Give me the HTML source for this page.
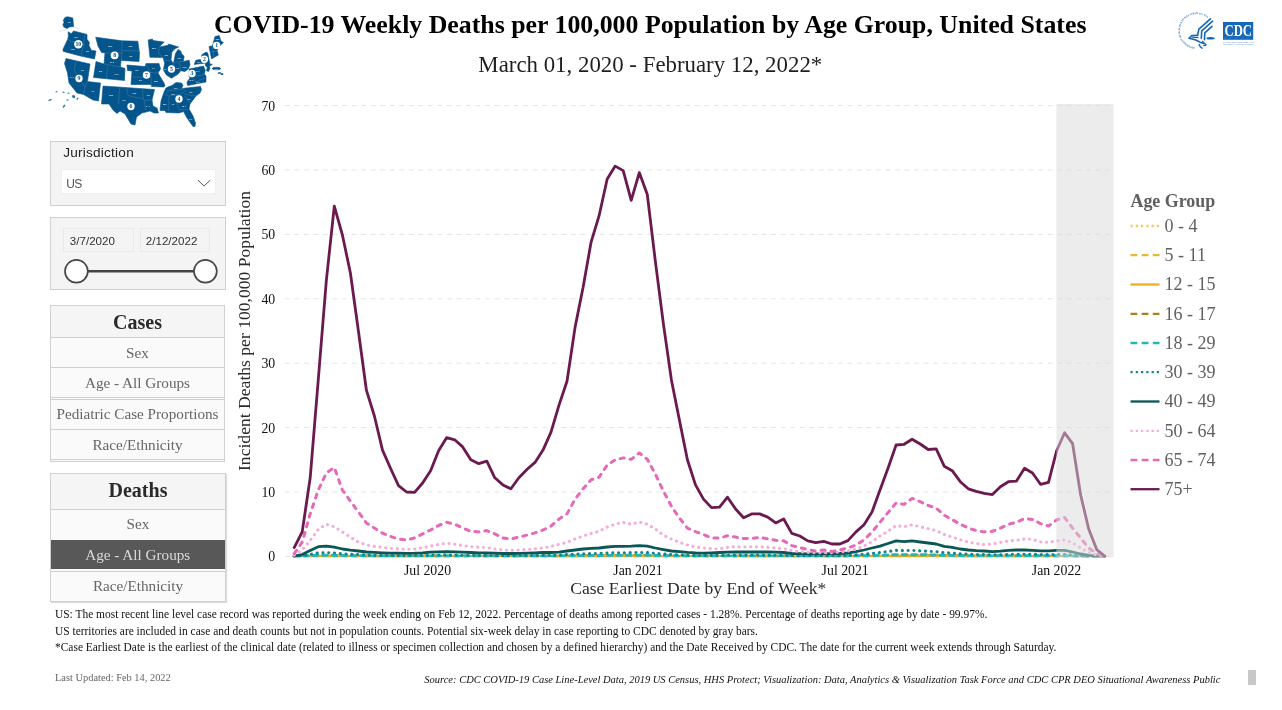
<!DOCTYPE html>
<html lang="en"><head><meta charset="utf-8"><title>COVID-19 Weekly Deaths per 100,000 Population by Age Group, United States</title>
<style>
html,body{margin:0;padding:0;background:#fff;}
body{width:1282px;height:710px;position:relative;overflow:hidden;font-family:"Liberation Serif",serif;color:#000;}
.abs{position:absolute;}
#title{left:0;width:1300.4px;top:9.7px;text-align:center;font-weight:bold;font-size:25.83px;line-height:30px;white-space:nowrap;}
#title span{display:inline-block;}
#sub{left:0;width:1300.6px;top:50.7px;text-align:center;font-size:22.85px;line-height:28px;color:#1f1f1f;white-space:nowrap;}
.box{position:absolute;box-sizing:border-box;border:1px solid #cfcfcf;background:#f4f4f4;}
.sans{font-family:"Liberation Sans",sans-serif;}
.panel{position:absolute;box-sizing:border-box;border:1px solid #d0d0d0;background:#fafafa;}
.ph{position:absolute;left:0;right:0;text-align:center;font-weight:bold;font-size:20px;color:#2a2a2a;background:#f5f5f5;border-bottom:1px solid #d0d0d0;box-sizing:border-box;}
.row{position:absolute;left:0;right:0;text-align:center;font-size:15.2px;color:#666;background:#fafafa;border-bottom:1px solid #d0d0d0;box-sizing:border-box;white-space:nowrap;}
.row.top{border-top:1px solid #d0d0d0;}
.row.sel{background:#585858;color:#d9d9d9;border-color:#585858;}
svg text{font-family:"Liberation Serif",serif;}
.tick{font-size:13.8px;fill:#111;}
.axl{font-size:17.6px;fill:#2b2b2b;}
.leg{font-size:18px;fill:#606060;}
.legt{font-size:17.9px;font-weight:bold;fill:#606060;}
.foot{position:absolute;left:55px;font-size:11.45px;line-height:14px;color:#111;white-space:nowrap;}
</style></head><body>
<div id="title" class="abs">COVID-19 Weekly Deaths per 100,000 Population by Age Group, United States</div>
<div id="sub" class="abs">March 01, 2020 - February 12, 2022*</div>
<svg class="abs" style="left:0;top:0" width="240" height="135" viewBox="0 0 240 135">
<g fill="#04558b" stroke="#04558b" stroke-width="0.6" stroke-linejoin="round">
<!-- Alaska -->
<polygon points="64.9,17.5 67.7,16.7 72.8,17.9 73.6,26.6 69.2,27 66.9,28.5 63.7,27 62.9,24.2 64.1,22.6 63.3,20.3"/>
<!-- Region 10 -->
<polygon points="68.1,31.7 71.2,33.7 73.6,30.9 87,34.4 87,39.2 89.3,42.3 89,45.5 91.3,50.2 96,51 94.5,58.9 80.7,56.1 63.3,51.4 62.9,49.4 67.7,39.2 68.4,36"/>
<!-- Region 9 -->
<polygon points="66,58.5 90,64 87.5,81.5 100.5,83 98.5,101 93,100 83.5,94.5 77,93 69,83 67.5,73 64.5,63.5"/>
<!-- Region 8 -->
<polygon points="95.7,37.2 122,40.8 137.8,41.2 139.5,53 139,61.5 121,60.5 120.5,67 125,68.5 124.5,80.5 93.5,77.5 96,61.5 104,64 105,53 101.5,52.5 98,46"/>
<!-- Region 7 -->
<polygon points="127,65 145,66.5 146,63.5 159,63.5 160.5,69 158,73 164,83 165,86 163.5,87 151.5,86.5 151,84.5 131,84.5 132,71 127.5,70.5"/>
<!-- Region 6 -->
<polygon points="103,86 154.5,89.5 152,100 153,106 157,108 158.5,113 154,113 150,111 142,113 136.5,117 135,125 131,124 125,114 120,111 117,113.5 113,110 109,104 101.5,104"/>
<!-- Region 4 -->
<polygon points="166,88 169,86.5 172,85.5 176,82.5 181.5,83 183,85.5 181.5,88.5 200.5,86.5 201.5,89.5 200,93 196,96 190,104 189,109 193,116 195.5,123 195,126.5 193,126.5 187,118 183.5,111.5 179,113 166,112.5 165,110.5 160,110.5 161,101 164,92"/>
<!-- Region 5 -->
<polygon points="148.2,39.9 152.4,39 153,40.5 164.2,42.1 159.2,47 167.2,45.4 168.9,44.1 178.6,47 174.6,49 171.9,52.1 171,59.7 172.6,62.6 173.7,62.6 175.4,53.8 178,49.4 180.7,50.9 181.6,53.8 184.1,56.3 183.3,61.4 189.2,60.2 190,64.8 188.3,69 184.9,71.6 180.7,70.7 178.2,74.1 171.4,78.3 166.3,74.9 163.4,69.9 164.7,63.1 163,57.6 149.9,57.2"/>
<!-- Region 3 -->
<polygon points="189.2,69 203.5,66.1 205.2,69.9 204.4,74.1 206,76 206,82 187.5,85.5 187,82 190,78 189,76"/>
<!-- Region 2 -->
<polygon points="201.9,54.7 206.1,52.1 207.8,53 209.9,64 212.4,64.4 209.5,66.1 209.9,68.2 208.6,71.6 206.5,70.7 207.3,67.3 205.2,65.6 205.7,63.1 194.2,64.4 195.9,60.2 201.4,59.3"/>
<ellipse cx="216.4" cy="68.6" rx="4.2" ry="1.3"/>
<ellipse cx="219.5" cy="73" rx="1.6" ry="0.5"/><ellipse cx="222" cy="74" rx="1.4" ry="0.5"/>
<!-- Region 1 -->
<polygon points="215,36.5 219.2,35.6 220.9,41.1 223.4,42.4 219.6,46.2 217.1,50.4 218.3,55.1 214.5,57.2 211.6,58.9 209,46.6 212.4,45.8"/>
<!-- Hawaii -->
<g fill-opacity="0.8" stroke-opacity="0.5">
<ellipse cx="50" cy="100" rx="1.6" ry="0.4" transform="rotate(-20 50 100)"/>
<ellipse cx="56.5" cy="91.7" rx="0.9" ry="0.35" transform="rotate(-30 56.5 91.7)"/>
<ellipse cx="63.5" cy="92.2" rx="1.2" ry="0.4"/>
<ellipse cx="68.5" cy="93.2" rx="1" ry="0.4"/>
<ellipse cx="73.6" cy="96.6" rx="1.6" ry="1.2" transform="rotate(30 73.6 96.6)"/>
<ellipse cx="77.5" cy="98.7" rx="0.5" ry="1.1" transform="rotate(30 77.5 98.7)"/>
<ellipse cx="64" cy="106.2" rx="0.6" ry="1.7" transform="rotate(35 64 106.2)"/>
<ellipse cx="67.5" cy="100" rx="1.2" ry="0.3"/>
</g>
</g>

<g fill="none" stroke="#6a9fc7" stroke-width="0.42" stroke-opacity="0.75">
<path d="M68,39.2 L70.8,41.5 L74,42 L82.6,44.7 L84.5,44.5"/>
<path d="M85,34.4 L83.4,44.7 L81,56.1"/>
<path d="M122,40.8 L121.7,60.5"/>
<path d="M122,50.6 L139,51"/>
<path d="M103.2,53 L122,53"/>
<path d="M76,61.5 L74,70 L85,87"/>
<path d="M87.5,81.5 L85,87 L83.5,94.5"/>
<path d="M107.5,66.5 L106.5,79"/>
<path d="M104,64 L120.5,67"/>
<path d="M119.5,88 L118.5,104"/>
<path d="M127,88.3 L127.5,94.5 L131,96.5 L143,98.5"/>
<path d="M142.5,89.5 L143.5,100.5 L152,100"/>
<path d="M144.5,101 L145.5,110"/>
<path d="M132.5,77 L150.5,77.5"/>
<path d="M146,64 L150.5,73 L151.5,86.5"/>
<path d="M149,72.5 L158,73"/>
<path d="M167,90.8 L184.5,89"/>
<path d="M164.5,94 L168.5,96 L180,94.5 L186,90.5"/>
<path d="M169,96.5 L168.5,111"/>
<path d="M176.5,102.5 L179,109.5"/>
<path d="M176.5,95.2 L176.5,102.5"/>
<path d="M184.5,96 L190,103"/>
<path d="M184.5,94 L190,95 L196,96"/>
<path d="M179,110 L188,109.5"/>
<path d="M159.2,47 L158.7,53.8 L163.4,57.6"/>
<path d="M163.4,60.6 L171.4,60.6"/>
<path d="M173.1,63.1 L173.5,72.4"/>
<path d="M179.9,62.3 L180.3,70.7"/>
<path d="M173.5,62.7 L183.3,61.4"/>
<path d="M189.5,77 L205,74.5"/>
<path d="M193,78 L196,82 L200,80 L206,78"/>
<path d="M212.4,45.8 L214,57"/><path d="M215.5,45 L217,50.4"/><path d="M210,52 L218,51"/>
</g>
<g fill="none" stroke="#04558b" stroke-opacity="0.35" stroke-width="0.5" stroke-linecap="round">
<path d="M69.2,27.3 Q66,30.5 59.8,31.3"/><path d="M73.8,26.8 Q76.5,27.5 78.7,29.3"/>
</g>
<g font-family="Liberation Sans, sans-serif" font-weight="bold" font-size="2.6" fill="#fff" fill-opacity="1.2" text-anchor="middle"><text x="69.2" y="23.1">AK</text><text x="76.3" y="38.1">WA</text><text x="72.8" y="49.9">OR</text><text x="87.4" y="51.9">ID</text><text x="110.2" y="46.8">MT</text><text x="130.4" y="46.8">ND</text><text x="130.8" y="57.0">SD</text><text x="112.2" y="63.3">WY</text><text x="82.5" y="71.4">NV</text><text x="72" y="77.9">CA</text><text x="100.5" y="71.9">UT</text><text x="116.5" y="75.4">CO</text><text x="92.5" y="91.7">AZ</text><text x="110.8" y="95.9">NM</text><text x="137" y="71.2">NE</text><text x="153.7" y="69.4">IA</text><text x="140.5" y="80.9">KS</text><text x="156" y="82.4">MO</text><text x="134.5" y="94.4">OK</text><text x="148.2" y="96.2">AR</text><text x="124" y="101.4">TX</text><text x="148" y="106.9">LA</text><text x="154" y="49.4">MN</text><text x="166.2" y="55.7">WI</text><text x="176" y="88.6">KY</text><text x="173" y="94.7">TN</text><text x="191" y="93.2">NC</text><text x="189" y="99.7">SC</text><text x="164.8" y="105.1">MS</text><text x="172.8" y="105.2">AL</text><text x="184" y="107.2">GA</text><text x="191" y="120.4">FL</text><text x="198" y="71.7">PA</text><text x="198" y="82.9">VA</text><text x="191.5" y="81.4">WV</text><text x="184.5" y="67.9">OH</text><text x="177.7" y="69.4">IN</text><text x="179" y="59.4">MI</text><text x="198.9" y="62.6">NY</text><text x="217.5" y="40.3">ME</text><text x="216.2" y="69.5">PR</text><text x="165" y="69.7">IL</text></g>
<g fill="#fff">
<circle cx="78.3" cy="44.3" r="4.2"/><circle cx="114.6" cy="55.3" r="3.9"/><circle cx="79" cy="78.5" r="3.7"/><circle cx="146.5" cy="75" r="3.7"/><circle cx="131" cy="106.5" r="3.7"/><circle cx="171.5" cy="69" r="3.7"/><circle cx="192" cy="73.5" r="3.7"/><circle cx="179" cy="99" r="3.7"/><circle cx="204.4" cy="59.3" r="3.7"/><circle cx="216.6" cy="45.4" r="3.7"/>
</g>
<g font-family="Liberation Sans, sans-serif" font-weight="bold" font-size="5.8" fill="#04558b" text-anchor="middle">
<text x="78.3" y="46.2">10</text><text x="114.6" y="57.2">8</text><text x="79" y="80.4">9</text><text x="146.5" y="76.9">7</text><text x="131" y="108.4">6</text><text x="171.5" y="70.9">5</text><text x="192" y="75.4">3</text><text x="179" y="100.9">4</text><text x="204.4" y="61.2">2</text><text x="216.6" y="47.3">1</text>
</g>
</svg>

<svg class="abs" style="left:1170px;top:5px" width="100" height="55" viewBox="1170 5 100 55">
<defs><path id="hhsarc" d="M1195.15,47.24 A16.6,16.6 0 1 1 1208.34,18.96"/></defs>
<text font-family="Liberation Sans, sans-serif" font-size="2.5" font-weight="bold" fill="#2a74bd" textLength="62" lengthAdjust="spacing"><textPath href="#hhsarc" textLength="62" lengthAdjust="spacing">DEPARTMENT OF HEALTH &amp; HUMAN SERVICES • USA</textPath></text>
<g fill="none" stroke="#1667b7" stroke-width="1.6" stroke-linecap="round" stroke-linejoin="round">
<path d="M1197.6,35.2 L1198.9,29.2 L1210.4,18.8"/>
<path d="M1201.3,38.2 L1201.7,30.9 L1212.6,21.2"/>
<path d="M1204.5,39.6 L1204.8,32.9 L1212,26.3"/>
<path d="M1197.6,35.4 L1191.8,35.5 L1189,38.3 Q1196,39.5 1200,42.2 L1204,43.6"/>
<path d="M1192,37.2 L1198,37.6" stroke-width="1.2"/>
<path d="M1207,38 Q1210.5,36.8 1214.3,38.4 Q1210.5,39.3 1207.2,38.6" stroke-width="1.1" fill="#1667b7"/>
<path d="M1199.2,44.6 Q1199.8,47 1202,48.2" stroke-width="1.5"/>
<path d="M1202.6,41.4 Q1203.8,43.4 1206,44.6" stroke-width="1.4"/>
<path d="M1203.5,45.8 L1205.8,45.4" stroke-width="1.1"/>
</g>
<rect x="1223" y="22" width="30.2" height="17.8" fill="#1667b7"/>
<text x="1238.2" y="36.3" text-anchor="middle" font-family="Liberation Serif, serif" font-weight="bold" font-size="16" fill="#fff" textLength="27.4" lengthAdjust="spacingAndGlyphs">CDC</text>
<g stroke="#fff" stroke-opacity="0.28" stroke-width="0.4"><line x1="1223" y1="39.8" x2="1236" y2="31"/><line x1="1228" y1="39.8" x2="1241" y2="30"/><line x1="1234" y1="39.8" x2="1247" y2="30"/><line x1="1240" y1="39.8" x2="1252" y2="31"/><line x1="1246" y1="39.8" x2="1253" y2="34"/></g>
<text x="1223" y="42.5" font-family="Liberation Sans, sans-serif" font-size="1.9" fill="#1667b7" textLength="31.5" lengthAdjust="spacingAndGlyphs">CENTERS FOR DISEASE</text>
<text x="1223" y="44.9" font-family="Liberation Sans, sans-serif" font-size="1.9" fill="#1667b7" textLength="30" lengthAdjust="spacingAndGlyphs">CONTROL AND PREVENTION</text>
</svg>

<div class="box" style="left:50px;top:141px;width:176px;height:65px;">
 <div class="abs sans" style="left:12.2px;top:3px;font-size:13.6px;letter-spacing:0.23px;line-height:16px;color:#222;">Jurisdiction</div>
 <div class="abs" style="left:10px;top:27px;width:155px;height:25.3px;background:#fff;border:1px solid #efefef;box-sizing:border-box;">
  <div class="abs sans" style="left:4.3px;top:7px;font-size:12px;line-height:14px;color:#555;letter-spacing:-0.6px;">US</div>
  <svg class="abs" style="left:135px;top:9px" width="16" height="9" viewBox="0 0 16 9"><path d="M1 1.2 L7.1 7 L13.2 1.2" fill="none" stroke="#555" stroke-width="1"/></svg>
 </div>
</div>
<div class="box" style="left:50px;top:217px;width:176px;height:73px;">
 <div class="abs sans" style="left:12px;top:9.5px;width:71px;height:24.5px;border:1px solid #e9e9e9;box-sizing:border-box;font-size:11.6px;line-height:24px;color:#333;padding-left:5.8px;">3/7/2020</div>
 <div class="abs sans" style="left:89px;top:9.5px;width:70px;height:24.5px;border:1px solid #e9e9e9;box-sizing:border-box;font-size:11.6px;line-height:24px;color:#333;padding-left:4.8px;">2/12/2022</div>
 <svg class="abs" style="left:0;top:36px" width="174" height="36" viewBox="0 0 174 36"><line x1="26" x2="155" y1="17.3" y2="17.3" stroke="#444" stroke-width="2.6"/><circle cx="25.4" cy="17.3" r="11.4" fill="#fff" stroke="#484848" stroke-width="1.7"/><circle cx="154.4" cy="17.3" r="11.4" fill="#fff" stroke="#484848" stroke-width="1.7"/></svg>
</div>

<div class="panel" style="left:50px;top:305px;width:175px;height:157px;">
 <div class="ph" style="top:0;height:32px;line-height:32px;">Cases</div>
 <div class="row" style="top:32px;height:30px;line-height:29px;">Sex</div>
 <div class="row" style="top:62px;height:30px;line-height:29px;">Age - All Groups</div>
 <div class="row top" style="top:93px;height:31px;line-height:28px;">Pediatric Case Proportions</div>
 <div class="row" style="top:124px;height:29.5px;line-height:29px;">Race/Ethnicity</div>
</div>
<div class="panel" style="left:50px;top:473px;width:176px;height:129.3px;box-shadow:1px 1px 1px #ddd;">
 <div class="ph" style="top:0;height:36px;line-height:32px;">Deaths</div>
 <div class="row" style="top:36px;height:30px;line-height:28px;border-bottom:none;">Sex</div>
 <div class="row sel" style="top:65.7px;height:29.3px;line-height:29px;right:0.5px;">Age - All Groups</div>
 <div class="row top" style="top:97.3px;height:30px;line-height:28.5px;border-bottom:none;">Race/Ethnicity</div>
</div>

<svg class="abs" style="left:0;top:0" width="1282" height="710" viewBox="0 0 1282 710">
<line x1="284.8" x2="1113" y1="556.4" y2="556.4" stroke="#e4e4e4" stroke-width="1" stroke-dasharray="4.9 4.635"/>
<line x1="284.8" x2="1113" y1="492.0" y2="492.0" stroke="#e4e4e4" stroke-width="1" stroke-dasharray="4.9 4.635"/>
<line x1="284.8" x2="1113" y1="427.6" y2="427.6" stroke="#e4e4e4" stroke-width="1" stroke-dasharray="4.9 4.635"/>
<line x1="284.8" x2="1113" y1="363.2" y2="363.2" stroke="#e4e4e4" stroke-width="1" stroke-dasharray="4.9 4.635"/>
<line x1="284.8" x2="1113" y1="298.8" y2="298.8" stroke="#e4e4e4" stroke-width="1" stroke-dasharray="4.9 4.635"/>
<line x1="284.8" x2="1113" y1="234.4" y2="234.4" stroke="#e4e4e4" stroke-width="1" stroke-dasharray="4.9 4.635"/>
<line x1="284.8" x2="1113" y1="170.0" y2="170.0" stroke="#e4e4e4" stroke-width="1" stroke-dasharray="4.9 4.635"/>
<line x1="284.8" x2="1113" y1="105.6" y2="105.6" stroke="#e4e4e4" stroke-width="1" stroke-dasharray="4.9 4.635"/>
<clipPath id="plotclip"><rect x="280" y="100" width="840" height="457.2"/></clipPath><g clip-path="url(#plotclip)">
<polyline fill="none" stroke="#a5851c" stroke-width="3" stroke-linejoin="round" stroke-linecap="round" stroke-dasharray="3.5 6.5" points="294.2,556.4 302.2,556.2 310.2,555.9 318.3,555.6 326.3,555.6 334.3,555.7 342.4,555.8 350.4,555.9 358.4,556.0 366.4,556.1 374.4,556.1 382.5,556.1 390.5,556.1 398.5,556.1 406.6,556.2 414.6,556.1 422.6,556.1 430.6,556.1 438.6,556.0 446.7,556.0 454.7,556.0 462.7,556.1 470.8,556.1 478.8,556.1 486.8,556.1 494.8,556.1 502.9,556.2 510.9,556.2 518.9,556.2 526.9,556.1 535.0,556.1 543.0,556.1 551.0,556.1 559.0,556.1 567.0,556.0 575.1,555.9 583.1,555.8 591.1,555.8 599.1,555.7 607.2,555.6 615.2,555.6 623.2,555.6 631.2,555.6 639.3,555.5 647.3,555.6 655.3,555.7 663.4,555.9 671.4,556.0 679.4,556.0 687.4,556.1 695.5,556.1 703.5,556.1 711.5,556.1 719.5,556.1 727.5,556.1 735.6,556.1 743.6,556.1 751.6,556.1 759.7,556.1 767.7,556.1 775.7,556.1 783.7,556.1 791.8,556.2 799.8,556.2 807.8,556.2 815.8,556.2 823.8,556.2 831.9,556.2 839.9,556.2 847.9,556.1 856.0,556.0 864.0,555.9 872.0,555.7 880.0,555.6 888.0,555.4 896.1,555.2 904.1,555.2 912.1,555.2 920.2,555.2 928.2,555.3 936.2,555.4 944.2,555.6 952.2,555.7 960.3,555.8 968.3,555.9 976.3,555.9 984.3,556.0 992.4,556.0 1000.4,556.0 1008.4,555.9 1016.5,555.9 1024.5,555.9 1032.5,555.9 1040.5,556.0 1048.5,556.0 1056.6,555.9 1064.6,555.9 1072.6,556.1 1080.7,556.2 1088.7,556.3 1096.7,556.4 1104.7,556.4"/>
<polyline fill="none" stroke="#f3c95f" stroke-width="3.1" stroke-linejoin="round" stroke-linecap="round" stroke-dasharray="0.1 5.7" points="294.2,556.4 302.2,556.4 310.2,556.3 318.3,556.2 326.3,556.1 334.3,556.2 342.4,556.2 350.4,556.2 358.4,556.3 366.4,556.3 374.4,556.3 382.5,556.3 390.5,556.3 398.5,556.3 406.6,556.3 414.6,556.3 422.6,556.3 430.6,556.3 438.6,556.3 446.7,556.3 454.7,556.3 462.7,556.3 470.8,556.3 478.8,556.3 486.8,556.3 494.8,556.3 502.9,556.3 510.9,556.3 518.9,556.3 526.9,556.3 535.0,556.3 543.0,556.3 551.0,556.3 559.0,556.3 567.0,556.3 575.1,556.2 583.1,556.2 591.1,556.2 599.1,556.2 607.2,556.2 615.2,556.1 623.2,556.1 631.2,556.1 639.3,556.1 647.3,556.1 655.3,556.2 663.4,556.2 671.4,556.3 679.4,556.3 687.4,556.3 695.5,556.3 703.5,556.3 711.5,556.3 719.5,556.3 727.5,556.3 735.6,556.3 743.6,556.3 751.6,556.3 759.7,556.3 767.7,556.3 775.7,556.3 783.7,556.3 791.8,556.3 799.8,556.3 807.8,556.3 815.8,556.3 823.8,556.3 831.9,556.3 839.9,556.3 847.9,556.3 856.0,556.3 864.0,556.2 872.0,556.2 880.0,556.1 888.0,556.1 896.1,556.0 904.1,556.0 912.1,556.0 920.2,556.0 928.2,556.1 936.2,556.1 944.2,556.1 952.2,556.2 960.3,556.2 968.3,556.2 976.3,556.3 984.3,556.3 992.4,556.3 1000.4,556.3 1008.4,556.3 1016.5,556.2 1024.5,556.2 1032.5,556.2 1040.5,556.3 1048.5,556.3 1056.6,556.3 1064.6,556.3 1072.6,556.3 1080.7,556.3 1088.7,556.4 1096.7,556.4 1104.7,556.4"/>
<polyline fill="none" stroke="#e9b736" stroke-width="3" stroke-linejoin="round" stroke-linecap="round" stroke-dasharray="3.5 6.5" points="294.2,556.4 302.2,556.4 310.2,556.3 318.3,556.3 326.3,556.3 334.3,556.3 342.4,556.3 350.4,556.3 358.4,556.3 366.4,556.4 374.4,556.4 382.5,556.4 390.5,556.4 398.5,556.4 406.6,556.4 414.6,556.4 422.6,556.4 430.6,556.4 438.6,556.4 446.7,556.4 454.7,556.4 462.7,556.4 470.8,556.4 478.8,556.4 486.8,556.4 494.8,556.4 502.9,556.4 510.9,556.4 518.9,556.4 526.9,556.4 535.0,556.4 543.0,556.4 551.0,556.4 559.0,556.4 567.0,556.3 575.1,556.3 583.1,556.3 591.1,556.3 599.1,556.3 607.2,556.3 615.2,556.3 623.2,556.3 631.2,556.3 639.3,556.3 647.3,556.3 655.3,556.3 663.4,556.3 671.4,556.3 679.4,556.4 687.4,556.4 695.5,556.4 703.5,556.4 711.5,556.4 719.5,556.4 727.5,556.4 735.6,556.4 743.6,556.4 751.6,556.4 759.7,556.4 767.7,556.4 775.7,556.4 783.7,556.4 791.8,556.4 799.8,556.4 807.8,556.4 815.8,556.4 823.8,556.4 831.9,556.4 839.9,556.4 847.9,556.4 856.0,556.4 864.0,556.3 872.0,556.3 880.0,556.3 888.0,556.3 896.1,556.2 904.1,556.3 912.1,556.2 920.2,556.3 928.2,556.3 936.2,556.3 944.2,556.3 952.2,556.3 960.3,556.3 968.3,556.3 976.3,556.3 984.3,556.3 992.4,556.4 1000.4,556.3 1008.4,556.3 1016.5,556.3 1024.5,556.3 1032.5,556.3 1040.5,556.3 1048.5,556.3 1056.6,556.3 1064.6,556.3 1072.6,556.4 1080.7,556.4 1088.7,556.4 1096.7,556.4 1104.7,556.4"/>
<polyline fill="none" stroke="#f0ac1c" stroke-width="2.8" stroke-linejoin="round" stroke-linecap="round" points="294.2,556.4 302.2,556.4 310.2,556.3 318.3,556.2 326.3,556.2 334.3,556.2 342.4,556.3 350.4,556.3 358.4,556.3 366.4,556.3 374.4,556.3 382.5,556.3 390.5,556.3 398.5,556.3 406.6,556.3 414.6,556.3 422.6,556.3 430.6,556.3 438.6,556.3 446.7,556.3 454.7,556.3 462.7,556.3 470.8,556.3 478.8,556.3 486.8,556.3 494.8,556.3 502.9,556.3 510.9,556.3 518.9,556.3 526.9,556.3 535.0,556.3 543.0,556.3 551.0,556.3 559.0,556.3 567.0,556.3 575.1,556.3 583.1,556.3 591.1,556.2 599.1,556.2 607.2,556.2 615.2,556.2 623.2,556.2 631.2,556.2 639.3,556.2 647.3,556.2 655.3,556.2 663.4,556.3 671.4,556.3 679.4,556.3 687.4,556.3 695.5,556.3 703.5,556.3 711.5,556.3 719.5,556.3 727.5,556.3 735.6,556.3 743.6,556.3 751.6,556.3 759.7,556.3 767.7,556.3 775.7,556.3 783.7,556.3 791.8,556.3 799.8,556.3 807.8,556.3 815.8,556.3 823.8,556.3 831.9,556.3 839.9,556.3 847.9,556.3 856.0,556.3 864.0,556.3 872.0,556.2 880.0,556.2 888.0,556.1 896.1,556.1 904.1,556.1 912.1,556.1 920.2,556.1 928.2,556.1 936.2,556.1 944.2,556.2 952.2,556.2 960.3,556.3 968.3,556.3 976.3,556.3 984.3,556.3 992.4,556.3 1000.4,556.3 1008.4,556.3 1016.5,556.3 1024.5,556.3 1032.5,556.3 1040.5,556.3 1048.5,556.3 1056.6,556.3 1064.6,556.3 1072.6,556.3 1080.7,556.4 1088.7,556.4 1096.7,556.4 1104.7,556.4"/>
<polyline fill="none" stroke="#23b7bb" stroke-width="3" stroke-linejoin="round" stroke-linecap="round" stroke-dasharray="4.5 5" points="294.2,556.4 302.2,556.2 310.2,555.7 318.3,555.3 326.3,555.3 334.3,555.4 342.4,555.6 350.4,555.7 358.4,555.8 366.4,555.9 374.4,556.0 382.5,556.0 390.5,556.0 398.5,556.0 406.6,556.1 414.6,556.0 422.6,556.0 430.6,555.9 438.6,555.9 446.7,555.9 454.7,555.9 462.7,555.9 470.8,556.0 478.8,556.0 486.8,556.0 494.8,556.0 502.9,556.1 510.9,556.1 518.9,556.1 526.9,556.0 535.0,556.0 543.0,556.0 551.0,556.0 559.0,555.9 567.0,555.8 575.1,555.7 583.1,555.6 591.1,555.5 599.1,555.5 607.2,555.4 615.2,555.3 623.2,555.3 631.2,555.3 639.3,555.2 647.3,555.3 655.3,555.5 663.4,555.6 671.4,555.8 679.4,555.9 687.4,556.0 695.5,556.0 703.5,556.0 711.5,556.0 719.5,556.0 727.5,555.9 735.6,555.9 743.6,555.9 751.6,555.9 759.7,555.9 767.7,555.9 775.7,555.9 783.7,556.0 791.8,556.1 799.8,556.1 807.8,556.1 815.8,556.1 823.8,556.1 831.9,556.1 839.9,556.1 847.9,556.0 856.0,555.9 864.0,555.7 872.0,555.5 880.0,555.3 888.0,555.0 896.1,554.7 904.1,554.8 912.1,554.7 920.2,554.8 928.2,554.9 936.2,555.0 944.2,555.3 952.2,555.4 960.3,555.6 968.3,555.7 976.3,555.8 984.3,555.8 992.4,555.9 1000.4,555.8 1008.4,555.7 1016.5,555.7 1024.5,555.7 1032.5,555.7 1040.5,555.8 1048.5,555.8 1056.6,555.7 1064.6,555.7 1072.6,555.9 1080.7,556.1 1088.7,556.3 1096.7,556.4 1104.7,556.4"/>
<polyline fill="none" stroke="#128690" stroke-width="3.1" stroke-linejoin="round" stroke-linecap="round" stroke-dasharray="0.1 5.7" points="294.2,556.2 302.2,556.1 310.2,554.4 318.3,552.9 326.3,552.6 334.3,553.0 342.4,553.8 350.4,554.3 358.4,554.6 366.4,555.1 374.4,555.2 382.5,555.4 390.5,555.6 398.5,555.6 406.6,555.6 414.6,555.6 422.6,555.4 430.6,555.2 438.6,555.0 446.7,554.9 454.7,555.0 462.7,555.2 470.8,555.3 478.8,555.4 486.8,555.4 494.8,555.6 502.9,555.7 510.9,555.7 518.9,555.6 526.9,555.6 535.0,555.4 543.0,555.3 551.0,555.3 559.0,555.2 567.0,554.6 575.1,554.2 583.1,553.8 591.1,553.6 599.1,553.4 607.2,553.0 615.2,552.7 623.2,552.7 631.2,552.6 639.3,552.4 647.3,552.6 655.3,553.4 663.4,554.0 671.4,554.6 679.4,554.9 687.4,555.2 695.5,555.4 703.5,555.6 711.5,555.4 719.5,555.3 727.5,555.2 735.6,555.1 743.6,555.1 751.6,555.1 759.7,555.1 767.7,555.1 775.7,555.2 783.7,555.3 791.8,555.7 799.8,555.7 807.8,555.8 815.8,555.8 823.8,555.8 831.9,555.7 839.9,555.7 847.9,555.5 856.0,554.9 864.0,554.2 872.0,553.4 880.0,552.6 888.0,551.5 896.1,550.4 904.1,550.7 912.1,550.4 920.2,550.9 928.2,551.3 936.2,551.7 944.2,552.7 952.2,553.1 960.3,553.8 968.3,554.2 976.3,554.5 984.3,554.6 992.4,554.9 1000.4,554.8 1008.4,554.4 1016.5,554.2 1024.5,554.2 1032.5,554.3 1040.5,554.6 1048.5,554.6 1056.6,554.4 1064.6,554.4 1072.6,555.1 1080.7,555.9 1088.7,556.2 1096.7,556.2 1104.7,556.2"/>
<polyline fill="none" stroke="#0b5757" stroke-width="2.8" stroke-linejoin="round" stroke-linecap="round" points="294.2,556.1 302.2,554.5 310.2,550.4 318.3,546.7 326.3,546.2 334.3,547.2 342.4,549.0 350.4,550.2 358.4,551.0 366.4,552.0 374.4,552.4 382.5,552.8 390.5,553.2 398.5,553.2 406.6,553.4 414.6,553.2 422.6,552.8 430.6,552.2 438.6,551.9 446.7,551.6 454.7,551.8 462.7,552.2 470.8,552.5 478.8,552.8 486.8,552.9 494.8,553.2 502.9,553.5 510.9,553.5 518.9,553.4 526.9,553.2 535.0,552.9 543.0,552.5 551.0,552.5 559.0,552.2 567.0,551.0 575.1,550.0 583.1,549.0 591.1,548.4 599.1,548.0 607.2,547.0 615.2,546.4 623.2,546.4 631.2,546.1 639.3,545.6 647.3,546.1 655.3,548.0 663.4,549.6 671.4,551.0 679.4,551.6 687.4,552.4 695.5,552.9 703.5,553.2 711.5,552.9 719.5,552.5 727.5,552.2 735.6,552.0 743.6,552.0 751.6,552.0 759.7,552.0 767.7,552.0 775.7,552.2 783.7,552.5 791.8,553.5 799.8,553.6 807.8,553.8 815.8,553.8 823.8,553.8 831.9,553.6 839.9,553.5 847.9,553.0 856.0,551.6 864.0,550.0 872.0,548.0 880.0,546.1 888.0,543.5 896.1,540.9 904.1,541.6 912.1,540.9 920.2,542.0 928.2,543.0 936.2,544.0 944.2,546.4 952.2,547.4 960.3,549.0 968.3,550.0 976.3,550.6 984.3,551.0 992.4,551.6 1000.4,551.2 1008.4,550.4 1016.5,550.0 1024.5,550.0 1032.5,550.3 1040.5,550.9 1048.5,550.9 1056.6,550.4 1064.6,550.4 1072.6,552.0 1080.7,554.0 1088.7,555.4 1096.7,556.1 1104.7,556.4"/>
<polyline fill="none" stroke="#f4acda" stroke-width="3.1" stroke-linejoin="round" stroke-linecap="round" stroke-dasharray="0.1 5.7" points="294.2,555.1 302.2,550.0 310.2,540.3 318.3,529.4 326.3,524.2 334.3,526.8 342.4,531.9 350.4,537.1 358.4,542.2 366.4,544.8 374.4,546.4 382.5,547.4 390.5,548.4 398.5,549.0 406.6,549.4 414.6,549.0 422.6,547.6 430.6,546.1 438.6,544.4 446.7,543.2 454.7,544.2 462.7,545.5 470.8,546.7 478.8,547.2 486.8,547.6 494.8,549.0 502.9,550.0 510.9,550.4 518.9,550.0 526.9,549.4 535.0,548.8 543.0,548.0 551.0,546.4 559.0,544.4 567.0,542.4 575.1,539.0 583.1,536.0 591.1,533.4 599.1,531.3 607.2,527.0 615.2,524.2 623.2,522.4 631.2,524.2 639.3,522.0 647.3,524.2 655.3,529.0 663.4,535.1 671.4,539.0 679.4,542.4 687.4,545.0 695.5,547.0 703.5,548.0 711.5,548.7 719.5,548.7 727.5,547.4 735.6,546.7 743.6,547.0 751.6,546.7 759.7,546.7 767.7,547.4 775.7,548.0 783.7,548.7 791.8,550.6 799.8,551.6 807.8,552.4 815.8,552.8 823.8,552.7 831.9,552.7 839.9,552.0 847.9,551.0 856.0,549.0 864.0,546.1 872.0,541.6 880.0,536.0 888.0,531.3 896.1,525.5 904.1,526.8 912.1,524.8 920.2,526.8 928.2,528.7 936.2,530.6 944.2,534.5 952.2,537.1 960.3,539.7 968.3,542.0 976.3,543.5 984.3,544.6 992.4,544.0 1000.4,542.4 1008.4,540.9 1016.5,540.3 1024.5,539.0 1032.5,539.4 1040.5,542.0 1048.5,542.4 1056.6,540.9 1064.6,540.0 1072.6,543.0 1080.7,548.0 1088.7,552.4 1096.7,555.1 1104.7,556.2"/>
<polyline fill="none" stroke="#e569b7" stroke-width="3" stroke-linejoin="round" stroke-linecap="round" stroke-dasharray="4 6" points="294.2,553.6 302.2,542.2 310.2,513.9 318.3,490.1 326.3,473.0 334.3,467.5 342.4,490.1 350.4,501.0 358.4,512.0 366.4,522.9 374.4,528.1 382.5,533.2 390.5,536.4 398.5,539.0 406.6,540.0 414.6,538.0 422.6,533.9 430.6,530.0 438.6,525.5 446.7,522.3 454.7,524.2 462.7,528.1 470.8,531.3 478.8,531.9 486.8,530.6 494.8,533.9 502.9,538.0 510.9,539.0 518.9,537.1 526.9,535.1 535.0,532.9 543.0,530.0 551.0,526.1 559.0,519.0 567.0,513.9 575.1,499.1 583.1,488.8 591.1,479.8 599.1,477.2 607.2,465.0 615.2,459.8 623.2,457.9 631.2,459.4 639.3,453.0 647.3,459.2 655.3,474.0 663.4,491.0 671.4,506.2 679.4,518.0 687.4,528.1 695.5,531.6 703.5,534.5 711.5,538.0 719.5,538.0 727.5,535.8 735.6,537.1 743.6,538.5 751.6,538.4 759.7,537.5 767.7,538.8 775.7,540.3 783.7,540.9 791.8,545.6 799.8,547.6 807.8,549.6 815.8,551.0 823.8,550.0 831.9,551.4 839.9,550.0 847.9,548.0 856.0,545.0 864.0,540.0 872.0,531.9 880.0,522.3 888.0,512.6 896.1,502.9 904.1,504.4 912.1,498.4 920.2,501.7 928.2,505.5 936.2,508.1 944.2,515.2 952.2,519.7 960.3,524.2 968.3,528.1 976.3,530.6 984.3,531.9 992.4,531.3 1000.4,528.1 1008.4,524.2 1016.5,522.3 1024.5,518.4 1032.5,519.4 1040.5,523.6 1048.5,526.1 1056.6,520.0 1064.6,517.4 1072.6,528.1 1080.7,538.0 1088.7,548.0 1096.7,553.6 1104.7,556.1"/>
<polyline fill="none" stroke="#6b1a50" stroke-width="2.8" stroke-linejoin="round" stroke-linecap="round" points="294.2,547.6 302.2,531.9 310.2,477.8 318.3,379.3 326.3,280.8 334.3,206.1 342.4,235.0 350.4,273.0 358.4,331.0 366.4,390.2 374.4,416.0 382.5,450.1 390.5,468.2 398.5,485.6 406.6,492.0 414.6,492.4 422.6,483.0 430.6,470.7 438.6,450.8 446.7,437.6 454.7,439.8 462.7,446.9 470.8,459.8 478.8,463.7 486.8,461.1 494.8,477.8 502.9,484.9 510.9,488.8 518.9,477.8 526.9,469.5 535.0,462.4 543.0,450.1 551.0,432.1 559.0,405.1 567.0,381.2 575.1,327.1 583.1,287.2 591.1,242.1 599.1,215.7 607.2,179.0 615.2,166.1 623.2,170.6 631.2,200.3 639.3,172.6 647.3,194.5 655.3,260.8 663.4,323.9 671.4,379.9 679.4,419.9 687.4,459.8 695.5,484.9 703.5,499.1 711.5,507.6 719.5,507.2 727.5,497.2 735.6,509.0 743.6,517.8 751.6,513.9 759.7,513.9 767.7,517.1 775.7,522.9 783.7,519.0 791.8,533.4 799.8,536.0 807.8,540.9 815.8,542.6 823.8,541.4 831.9,544.0 839.9,544.0 847.9,540.6 856.0,531.9 864.0,524.8 872.0,512.0 880.0,490.1 888.0,468.2 896.1,445.0 904.1,444.3 912.1,439.2 920.2,444.0 928.2,449.5 936.2,448.9 944.2,466.2 952.2,470.7 960.3,481.7 968.3,488.8 976.3,491.4 984.3,493.3 992.4,494.6 1000.4,486.8 1008.4,481.7 1016.5,481.1 1024.5,468.2 1032.5,473.0 1040.5,484.3 1048.5,482.3 1056.6,450.8 1064.6,432.8 1072.6,443.7 1080.7,495.2 1088.7,529.0 1096.7,549.6 1104.7,556.0"/>
</g>
<rect x="1056.4" y="104" width="57.2" height="453" fill="#d9d9d9" fill-opacity="0.5"/>
<text x="275.2" y="561.3" text-anchor="end" class="tick">0</text>
<text x="275.2" y="496.9" text-anchor="end" class="tick">10</text>
<text x="275.2" y="432.5" text-anchor="end" class="tick">20</text>
<text x="275.2" y="368.1" text-anchor="end" class="tick">30</text>
<text x="275.2" y="303.7" text-anchor="end" class="tick">40</text>
<text x="275.2" y="239.3" text-anchor="end" class="tick">50</text>
<text x="275.2" y="174.9" text-anchor="end" class="tick">60</text>
<text x="275.2" y="110.5" text-anchor="end" class="tick">70</text>
<text x="427.5" y="574.5" text-anchor="middle" class="tick">Jul 2020</text>
<text x="638" y="574.5" text-anchor="middle" class="tick">Jan 2021</text>
<text x="845.2" y="574.5" text-anchor="middle" class="tick">Jul 2021</text>
<text x="1056.5" y="574.5" text-anchor="middle" class="tick">Jan 2022</text>
<text x="698.3" y="593.5" text-anchor="middle" class="axl">Case Earliest Date by End of Week*</text>
<text transform="translate(250,331) rotate(-90)" text-anchor="middle" class="axl">Incident Deaths per 100,000 Population</text>
<text x="1130.5" y="207" class="legt">Age Group</text>
<line x1="1130.5" x2="1159.5" y1="226.0" y2="226.0" stroke="#f3c95f" stroke-width="2.3" stroke-dasharray="2.2 3.07"/>
<text x="1164.6" y="231.8" class="leg">0 - 4</text>
<line x1="1130.5" x2="1159.5" y1="255.2" y2="255.2" stroke="#e9b736" stroke-width="2.3" stroke-dasharray="6.8 4.35"/>
<text x="1164.6" y="261.1" class="leg">5 - 11</text>
<line x1="1130.5" x2="1159.5" y1="284.5" y2="284.5" stroke="#f0ac1c" stroke-width="2.3"/>
<text x="1164.6" y="290.3" class="leg">12 - 15</text>
<line x1="1130.5" x2="1159.5" y1="313.8" y2="313.8" stroke="#a5851c" stroke-width="2.3" stroke-dasharray="6.8 4.35"/>
<text x="1164.6" y="319.6" class="leg">16 - 17</text>
<line x1="1130.5" x2="1159.5" y1="343.0" y2="343.0" stroke="#23b7bb" stroke-width="2.3" stroke-dasharray="6.8 4.35"/>
<text x="1164.6" y="348.8" class="leg">18 - 29</text>
<line x1="1130.5" x2="1159.5" y1="372.2" y2="372.2" stroke="#128690" stroke-width="2.3" stroke-dasharray="2.2 3.07"/>
<text x="1164.6" y="378.1" class="leg">30 - 39</text>
<line x1="1130.5" x2="1159.5" y1="401.5" y2="401.5" stroke="#0b5757" stroke-width="2.3"/>
<text x="1164.6" y="407.3" class="leg">40 - 49</text>
<line x1="1130.5" x2="1159.5" y1="430.8" y2="430.8" stroke="#f4acda" stroke-width="2.3" stroke-dasharray="2.2 3.07"/>
<text x="1164.6" y="436.6" class="leg">50 - 64</text>
<line x1="1130.5" x2="1159.5" y1="460.0" y2="460.0" stroke="#e569b7" stroke-width="2.3" stroke-dasharray="6.8 4.35"/>
<text x="1164.6" y="465.8" class="leg">65 - 74</text>
<line x1="1130.5" x2="1159.5" y1="489.2" y2="489.2" stroke="#6b1a50" stroke-width="2.3"/>
<text x="1164.6" y="495.1" class="leg">75+</text>
</svg>

<div class="foot" style="top:606.7px;">US: The most recent line level case record was reported during the week ending on Feb 12, 2022. Percentage of deaths among reported cases - 1.28%. Percentage of deaths reporting age by date - 99.97%.</div>
<div class="foot" style="top:623.7px;">US territories are included in case and death counts but not in population counts. Potential six-week delay in case reporting to CDC denoted by gray bars.</div>
<div class="foot" style="top:640.3px;">*Case Earliest Date is the earliest of the clinical date (related to illness or specimen collection and chosen by a defined hierarchy) and the Date Received by CDC. The date for the current week extends through Saturday.</div>
<div class="abs" style="left:55px;top:670.5px;font-size:10.4px;line-height:13px;color:#666;white-space:nowrap;">Last Updated: Feb 14, 2022</div>
<div class="abs" style="left:424.3px;top:672.9px;font-size:10.49px;line-height:13px;font-style:italic;color:#111;white-space:nowrap;">Source: CDC COVID-19 Case Line-Level Data, 2019 US Census, HHS Protect; Visualization: Data, Analytics &amp; Visualization Task Force and CDC CPR DEO Situational Awareness Public</div>
<div class="abs" style="left:1248.3px;top:669.8px;width:7.3px;height:15px;background:#c8c8c8;"></div>
</body></html>
